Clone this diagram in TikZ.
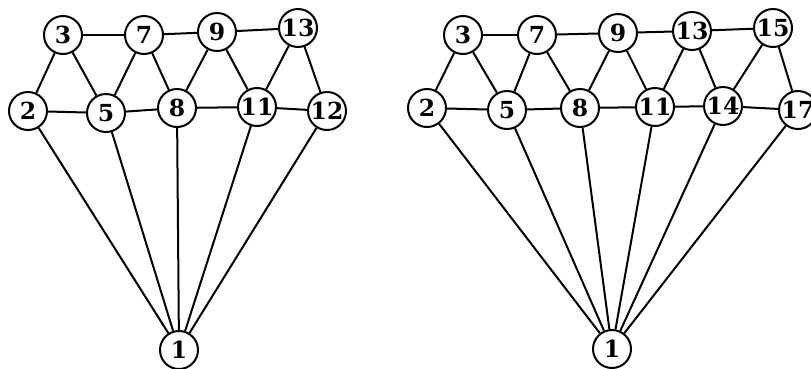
\documentclass[tikz,border=0pt]{standalone}
\usepackage{fontspec}
\setmainfont{DejaVu Serif}
\begin{document}
\begin{tikzpicture}[x=1pt,y=-1pt,
  vtx/.style={circle,draw,line width=2pt,fill=white,minimum size=38pt,inner sep=0pt,
    font=\fontsize{23.5}{23.5}\selectfont\bfseries},
  link/.style={line width=2pt}]
\useasboundingbox (0,0) rectangle (811,368);
\fill[white] (0,0) rectangle (811,368);
% left graph
\node[vtx] (a3) at (63,35) {3};
\node[vtx] (a7) at (144,35) {7};
\node[vtx] (a9) at (217,32) {9};
\node[vtx] (a13) at (298,28) {13};
\node[vtx] (a2) at (28,111) {2};
\node[vtx] (a5) at (106,113) {5};
\node[vtx] (a8) at (177,108) {8};
\node[vtx] (a11) at (257,107) {11};
\node[vtx] (a12) at (327,111) {12};
\node[vtx] (a1) at (179,350) {1};
% right graph
\node[vtx] (b3) at (463,35) {3};
\node[vtx] (b7) at (537,35) {7};
\node[vtx] (b9) at (618,33) {9};
\node[vtx] (b13) at (692,31) {13};
\node[vtx] (b15) at (773,28) {15};
\node[vtx] (b2) at (427,108) {2};
\node[vtx] (b5) at (507,110) {5};
\node[vtx] (b8) at (580,108) {8};
\node[vtx] (b11) at (655,107) {11};
\node[vtx] (b14) at (723,106) {14};
\node[vtx] (b17) at (798,110) {17};
\node[vtx] (b1) at (612,349) {1};
% edges of the left graph
\foreach \u/\v in {a3/a7,a7/a9,a9/a13,a3/a2,a3/a5,a7/a5,a7/a8,a9/a8,a9/a11,a13/a11,a13/a12,
  a2/a5,a5/a8,a8/a11,a11/a12,a1/a2,a1/a5,a1/a8,a1/a11,a1/a12}
  \draw[link] (\u) -- (\v);
% edges of the right graph
\foreach \u/\v in {b3/b7,b7/b9,b9/b13,b13/b15,b3/b2,b3/b5,b7/b5,b7/b8,b9/b8,b9/b11,b13/b11,
  b13/b14,b15/b14,b15/b17,b2/b5,b5/b8,b8/b11,b11/b14,b14/b17,
  b1/b2,b1/b5,b1/b8,b1/b11,b1/b14,b1/b17}
  \draw[link] (\u) -- (\v);
\end{tikzpicture}
\end{document}
